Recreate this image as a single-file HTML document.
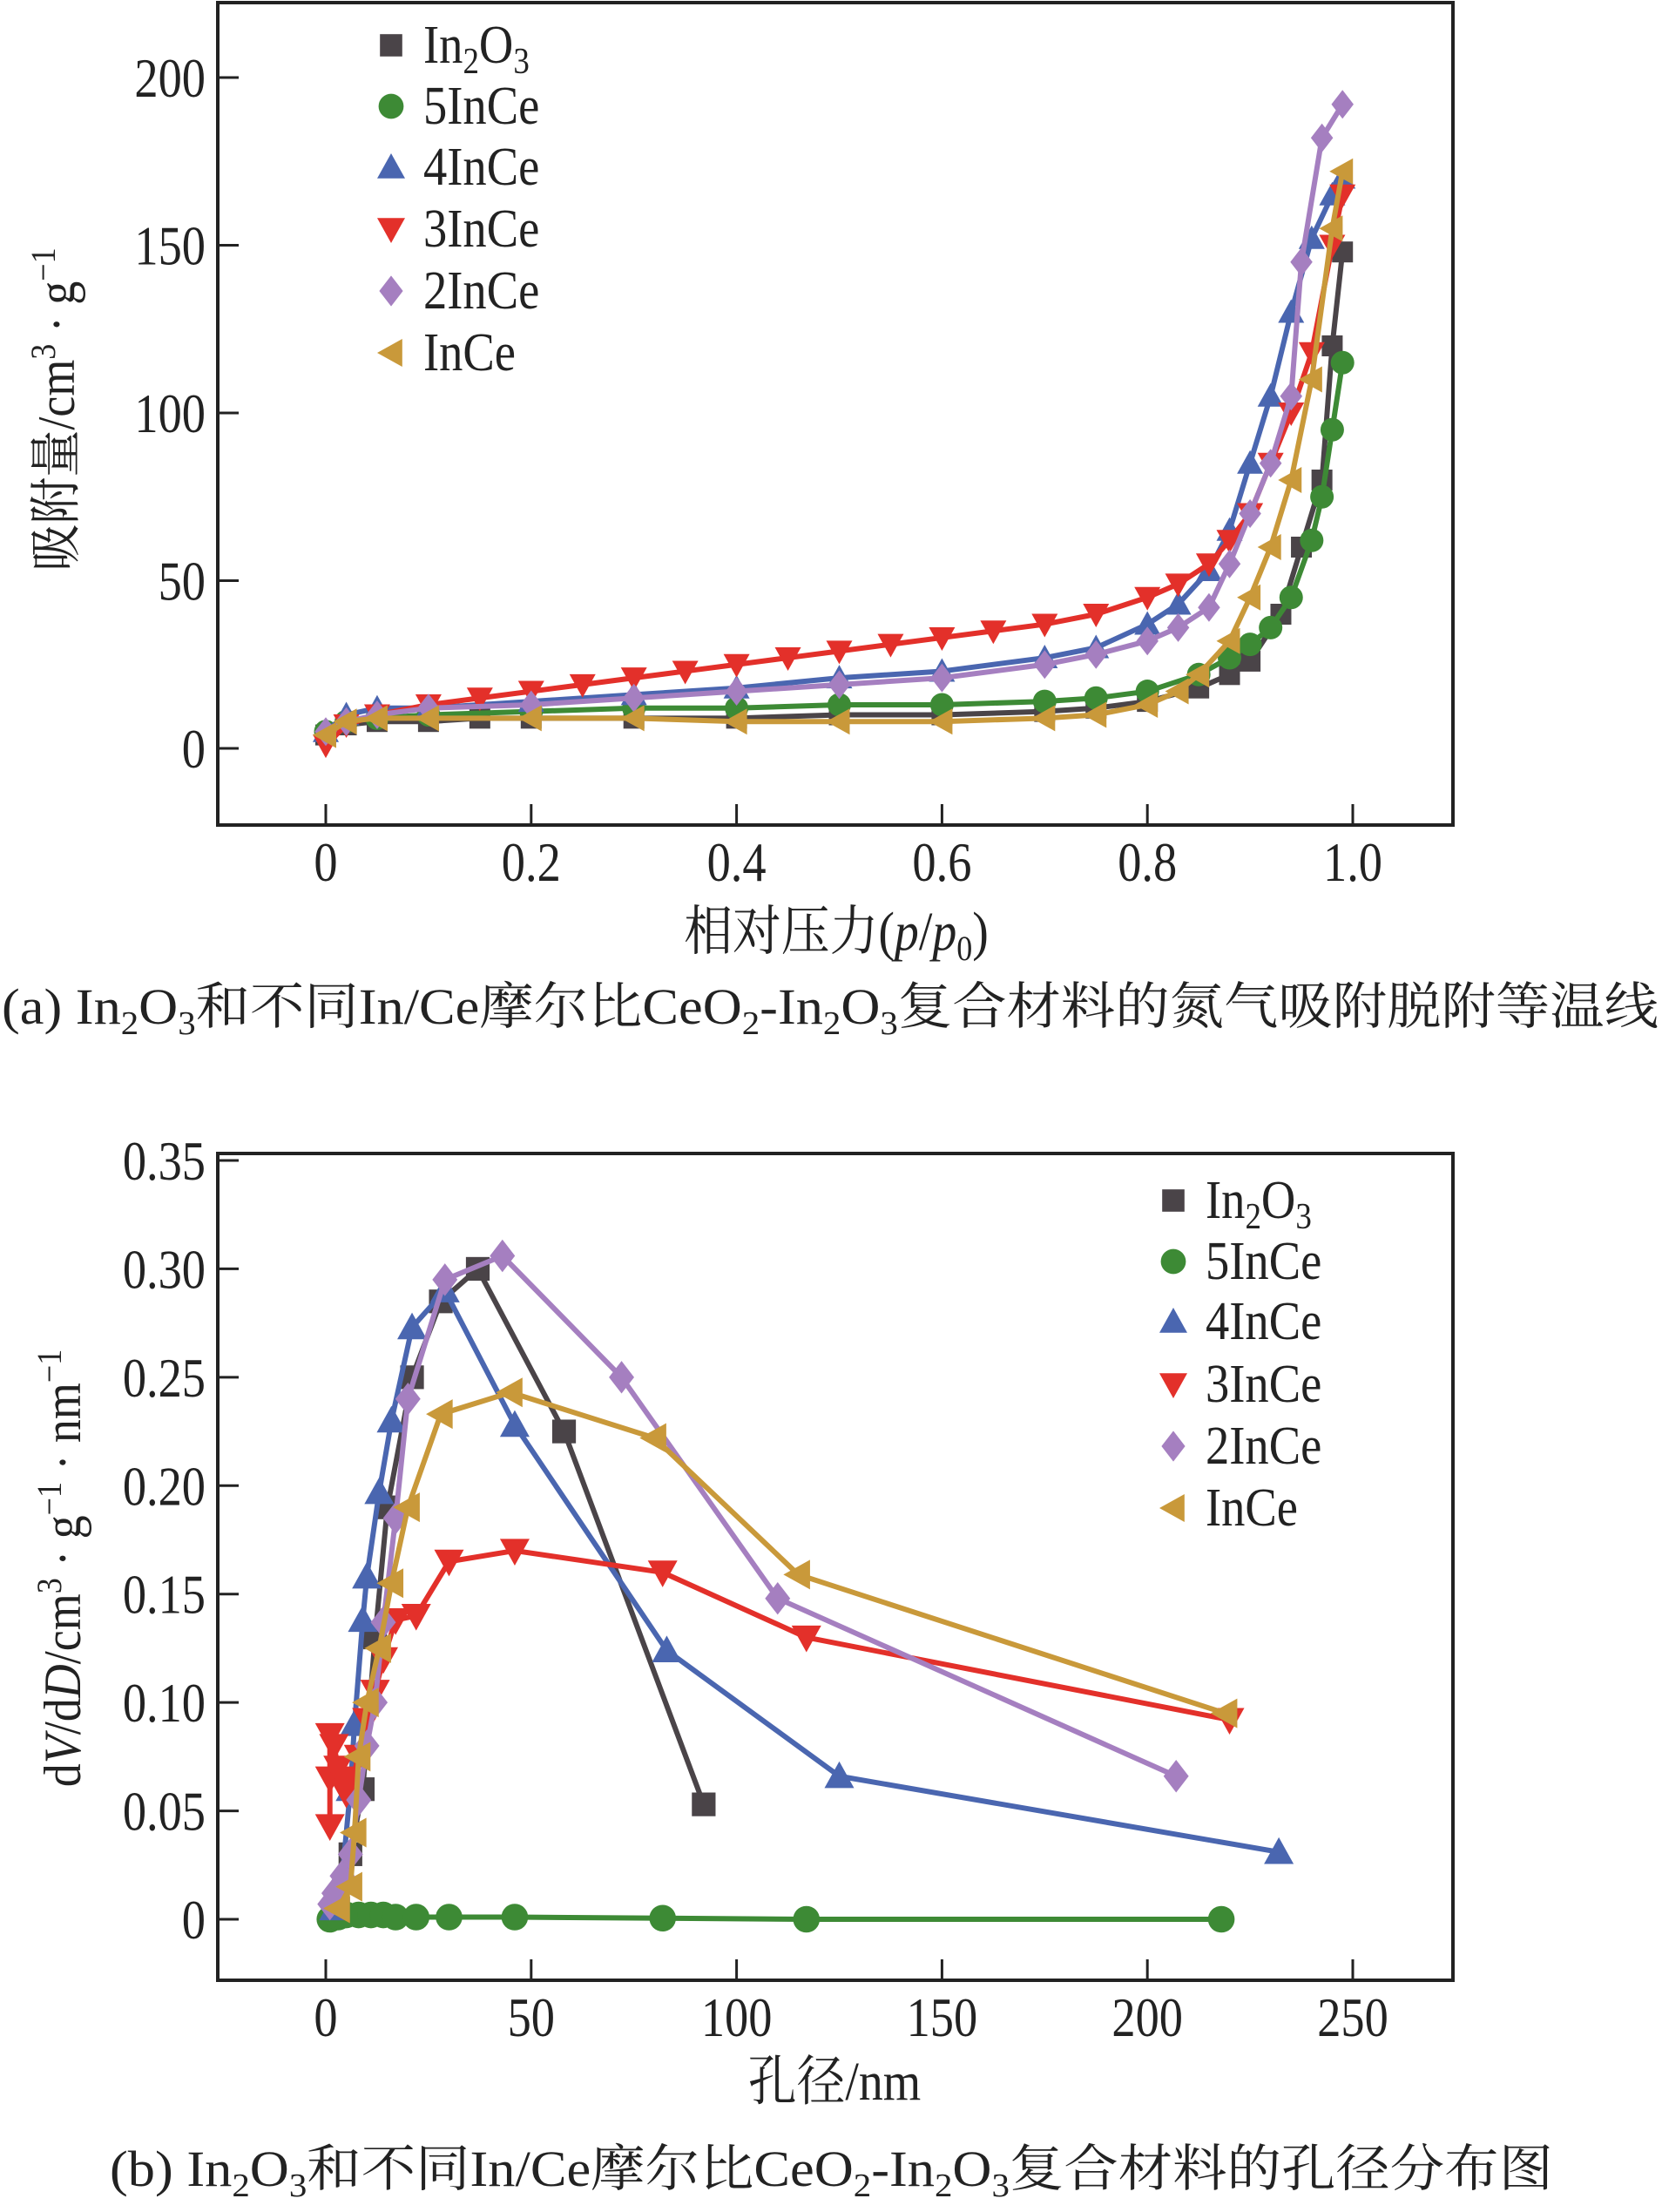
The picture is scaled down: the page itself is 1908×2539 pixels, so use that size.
<!DOCTYPE html>
<html><head><meta charset="utf-8"><style>
html,body{margin:0;padding:0;background:#fff}
svg{display:block}
text{font-family:"Liberation Serif","Noto Serif CJK SC",serif;fill:#222}
</style></head><body>
<svg id="svg" width="1908" height="2539" viewBox="0 0 1908 2539" xmlns="http://www.w3.org/2000/svg">
<g id="chartA"></g>
<g id="chartB"></g>
<text x="2" y="1175" font-size="58" textLength="1902" lengthAdjust="spacingAndGlyphs">(a) In<tspan font-size="38" dy="12">2</tspan><tspan dy="-12">O</tspan><tspan font-size="38" dy="12">3</tspan><tspan dy="-12">和不同In/Ce摩尔比CeO</tspan><tspan font-size="38" dy="12">2</tspan><tspan dy="-12">-In</tspan><tspan font-size="38" dy="12">2</tspan><tspan dy="-12">O</tspan><tspan font-size="38" dy="12">3</tspan><tspan dy="-12">复合材料的氮气吸附脱附等温线</tspan></text>
<text x="126" y="2509" font-size="58" textLength="1657" lengthAdjust="spacingAndGlyphs">(b) In<tspan font-size="38" dy="12">2</tspan><tspan dy="-12">O</tspan><tspan font-size="38" dy="12">3</tspan><tspan dy="-12">和不同In/Ce摩尔比CeO</tspan><tspan font-size="38" dy="12">2</tspan><tspan dy="-12">-In</tspan><tspan font-size="38" dy="12">2</tspan><tspan dy="-12">O</tspan><tspan font-size="38" dy="12">3</tspan><tspan dy="-12">复合材料的孔径分布图</tspan></text>
</svg>
<script>
// ---------- Chart A data ----------
const seriesNames = ["In2O3","5InCe","4InCe","3InCe","2InCe","InCe"];
const aBlackX = [0,0.02,0.05,0.1,0.15,0.2,0.3,0.4,0.5,0.6,0.7,0.75,0.8,0.85,0.88,0.9,0.93,0.95,0.97,0.98,0.99];
const aBlackY = [4,7,8,8,9,9,9,9,10,10,11,12,14,18,22,26,40,60,80,120,148];
const aGreenX = [0,0.02,0.05,0.1,0.2,0.3,0.4,0.5,0.6,0.7,0.75,0.8,0.85,0.88,0.9,0.92,0.94,0.96,0.97,0.98,0.99];
const aGreenY = [5,8,9,10,11,12,12,13,13,14,15,17,22,27,31,36,45,62,75,95,115];
const aBlueX = [0,0.02,0.05,0.1,0.2,0.3,0.4,0.5,0.6,0.7,0.75,0.8,0.83,0.86,0.88,0.9,0.92,0.94,0.96,0.98,0.99];
const aBlueY = [5,10,12,12,14,16,18,21,23,27,30,37,43,53,65,85,105,130,152,165,170];
const aRedX = [0,0.02,0.05,0.1,0.15,0.2,0.25,0.3,0.35,0.4,0.45,0.5,0.55,0.6,0.65,0.7,0.75,0.8,0.83,0.86,0.88,0.9,0.92,0.94,0.96,0.98,0.99];
const aRedY = [1,7,10,13,15,17,19,21,23,25,27,29,31,33,35,37,40,45,49,55,62,70,85,100,118,150,165];
const aPurpleX = [0,0.02,0.05,0.1,0.2,0.3,0.4,0.5,0.6,0.7,0.75,0.8,0.83,0.86,0.88,0.9,0.92,0.94,0.95,0.97,0.99];
const aPurpleY = [5,8,10,12,13,15,17,19,21,25,28,32,36,42,55,70,85,105,145,182,192];
const aGoldX = [0,0.02,0.05,0.1,0.2,0.3,0.4,0.5,0.6,0.7,0.75,0.8,0.83,0.85,0.88,0.9,0.92,0.94,0.96,0.98,0.99];
const aGoldY = [4,8,9,9,9,9,8,8,8,9,10,13,17,22,32,45,60,80,110,155,172];
const aXTicks = [0,0.2,0.4,0.6,0.8,1.0];
const aXTickLabels = ["0","0.2","0.4","0.6","0.8","1.0"];
const aYTicks = [0,50,100,150,200];
const aYTickLabels = ["0","50","100","150","200"];
// ---------- Chart B data ----------
const bBlackX = [3,6,9,12,15,21,28,37,58,92];
const bBlackY = [0.005,0.03,0.06,0.13,0.19,0.25,0.285,0.30,0.225,0.053];
const bGreenX = [1,3,5,8,11,14,17,22,30,46,82,117,218];
const bGreenY = [0,0.001,0.002,0.002,0.002,0.002,0.001,0.001,0.001,0.001,0.0005,0,0];
const bBlueX = [2,4,6,7,9,10,13,16,21,29,46,83,125,232];
const bBlueY = [0.005,0.02,0.06,0.09,0.138,0.158,0.197,0.23,0.273,0.29,0.228,0.124,0.066,0.031];
const bRedX = [1,1,1,2,3,4,5,6,8,10,12,14,17,22,30,46,82,117,220];
const bRedY = [0.043,0.065,0.085,0.08,0.07,0.065,0.058,0.062,0.075,0.092,0.105,0.12,0.138,0.14,0.165,0.17,0.16,0.13,0.092];
const bPurpleX = [1,2,4,6,8,10,12,14,17,20,29,43,72,110,207];
const bPurpleY = [0.007,0.012,0.02,0.03,0.055,0.08,0.1,0.137,0.185,0.24,0.295,0.306,0.25,0.148,0.066];
const bGoldX = [3,6,7,8,10,13,16,20,28,45,80,115,219];
const bGoldY = [0.005,0.015,0.04,0.075,0.1,0.125,0.155,0.19,0.233,0.243,0.222,0.159,0.095];
const bXTicks = [0,50,100,150,200,250];
const bXTickLabels = ["0","50","100","150","200","250"];
const bYTicks = [0,0.05,0.10,0.15,0.20,0.25,0.30,0.35];
const bYTickLabels = ["0","0.05","0.10","0.15","0.20","0.25","0.30","0.35"];

const colors = ["#4a4448","#3d8a35","#4a66b0","#e3302a","#a57fc0","#c9993a"];
const markers = ["square","circle","up","down","diamond","left"];
const NS = "http://www.w3.org/2000/svg";
function mk(tag, attrs, parent){const e=document.createElementNS(NS,tag);for(const k in attrs)e.setAttribute(k,attrs[k]);parent.appendChild(e);return e;}
function txt(parent,x,y,s,size,anchor,sx){const t=mk("text",{transform:`translate(${x},${y}) scale(${sx||0.85},1)`,"font-size":size,"text-anchor":anchor||"middle"},parent);t.textContent=s;return t;}
function marker(parent,type,x,y,r,color){
  let e;
  if(type==="square") e=mk("rect",{x:x-r*0.8,y:y-r*0.8,width:r*1.6,height:r*1.6,fill:color},parent);
  else if(type==="circle") e=mk("circle",{cx:x,cy:y,r:r*0.9,fill:color},parent);
  else if(type==="up") e=mk("polygon",{points:`${x},${y-r} ${x-r},${y+r*0.8} ${x+r},${y+r*0.8}`,fill:color},parent);
  else if(type==="down") e=mk("polygon",{points:`${x},${y+r} ${x-r},${y-r*0.8} ${x+r},${y-r*0.8}`,fill:color},parent);
  else if(type==="diamond") e=mk("polygon",{points:`${x},${y-r*1.1} ${x+r*0.85},${y} ${x},${y+r*1.1} ${x-r*0.85},${y}`,fill:color},parent);
  else e=mk("polygon",{points:`${x-r},${y} ${x+r*0.8},${y-r} ${x+r*0.8},${y+r}`,fill:color},parent);
  return e;
}
function drawChart(g, cfg){
  const sx=v=>cfg.x0px+(v-cfg.xmin)/(cfg.xmax-cfg.xmin)*(cfg.x1px-cfg.x0px);
  const sy=v=>cfg.y0px-(v-cfg.ymin)/(cfg.ymax-cfg.ymin)*(cfg.y0px-cfg.y1px);
  const frame=mk("rect",{x:cfg.L,y:cfg.T,width:cfg.R-cfg.L,height:cfg.B-cfg.T,fill:"none",stroke:"#222","stroke-width":4},g);
  
  
  cfg.xt.forEach((v,i)=>{
    const t=mk("line",{x1:sx(v),x2:sx(v),y1:cfg.B,y2:cfg.B-24,stroke:"#222","stroke-width":3},g);
    
    
    const l=txt(g,sx(v),cfg.B+64,cfg.xtl[i],64);
    
    
  });
  cfg.yt.forEach((v,i)=>{
    const t=mk("line",{x1:cfg.L,x2:cfg.L+24,y1:sy(v),y2:sy(v),stroke:"#222","stroke-width":3},g);
    
    
    const l=txt(g,cfg.L-14,sy(v)+22,cfg.ytl[i],64,"end");
    
    
  });
  cfg.series.forEach((s,i)=>{
    const sg=mk("g",{},g);
    
    
    const pts=s[0].map((x,j)=>sx(x)+","+sy(s[1][j])).join(" ");
    const pl=mk("polyline",{points:pts,fill:"none",stroke:colors[i],"stroke-width":6,"stroke-linejoin":"round"},sg);
    
    
    s[0].forEach((x,j)=>{
      const m=marker(sg,markers[i],sx(x),sy(s[1][j]),cfg.mr,colors[i]);
      
      
    });
  });
  const lg=mk("g",{},g);
  
  
  seriesNames.forEach((n,i)=>{
    const y=cfg.legY[i];
    const m=marker(lg,markers[i],cfg.legX,y,16,colors[i]);
    
    
    const t=mk("text",{transform:`translate(${cfg.legX+37},${y+20}) scale(0.88,1)`,"font-size":62},lg);
    
    
    if(n==="In2O3"){t.innerHTML='In<tspan font-size="42" dy="12">2</tspan><tspan dy="-12">O</tspan><tspan font-size="42" dy="12">3</tspan>';}
    else t.textContent=n;
  });
}
const gA=document.getElementById("chartA");
drawChart(gA,{L:250,R:1668,T:3,B:947,x0px:374,x1px:1553,xmin:0,xmax:1,y0px:859,y1px:89,ymin:0,ymax:200,
  xt:aXTicks,xtl:aXTickLabels,yt:aYTicks,ytl:aYTickLabels,mr:15,
  series:[[aBlackX,aBlackY],[aGreenX,aGreenY],[aBlueX,aBlueY],[aRedX,aRedY],[aPurpleX,aPurpleY],[aGoldX,aGoldY]],
  legX:449,legY:[52,122,192,263,334,405]});
const gB=document.getElementById("chartB");
drawChart(gB,{L:250,R:1668,T:1324,B:2273,x0px:374,x1px:1553,xmin:0,xmax:250,y0px:2203,y1px:1332,ymin:0,ymax:0.35,
  xt:bXTicks,xtl:bXTickLabels,yt:bYTicks,ytl:bYTickLabels,mr:17,
  series:[[bBlackX,bBlackY],[bGreenX,bGreenY],[bBlueX,bBlueY],[bRedX,bRedY],[bPurpleX,bPurpleY],[bGoldX,bGoldY]],
  legX:1347,legY:[1378,1448,1517,1589,1660,1731]});
// axis titles
const svg=document.getElementById("svg");
let t;
t=mk("text",{transform:"translate(960,1090) scale(0.9,1)","font-size":62,"text-anchor":"middle"},svg);


t.innerHTML='相对压力(<tspan font-style="italic">p</tspan>/<tspan font-style="italic">p</tspan><tspan font-size="40" dy="12">0</tspan><tspan dy="-12">)</tspan>';
t=mk("text",{transform:"translate(85,470) rotate(-90) scale(0.9,1)","font-size":60,"text-anchor":"middle"},svg);


t.innerHTML='吸附量/cm<tspan font-size="40" dy="-22">3</tspan><tspan dy="22"> · g</tspan><tspan font-size="40" dy="-22">−1</tspan>';
t=mk("text",{transform:"translate(958,2410) scale(0.9,1)","font-size":62,"text-anchor":"middle"},svg);


t.textContent='孔径/nm';
t=mk("text",{transform:"translate(92,1800) rotate(-90) scale(0.9,1)","font-size":60,"text-anchor":"middle"},svg);


t.innerHTML='d<tspan font-style="italic">V</tspan>/d<tspan font-style="italic">D</tspan>/cm<tspan font-size="40" dy="-22">3</tspan><tspan dy="22"> · g</tspan><tspan font-size="40" dy="-22">−1</tspan><tspan dy="22"> · nm</tspan><tspan font-size="40" dy="-22">−1</tspan>';
</script>
</body></html>
